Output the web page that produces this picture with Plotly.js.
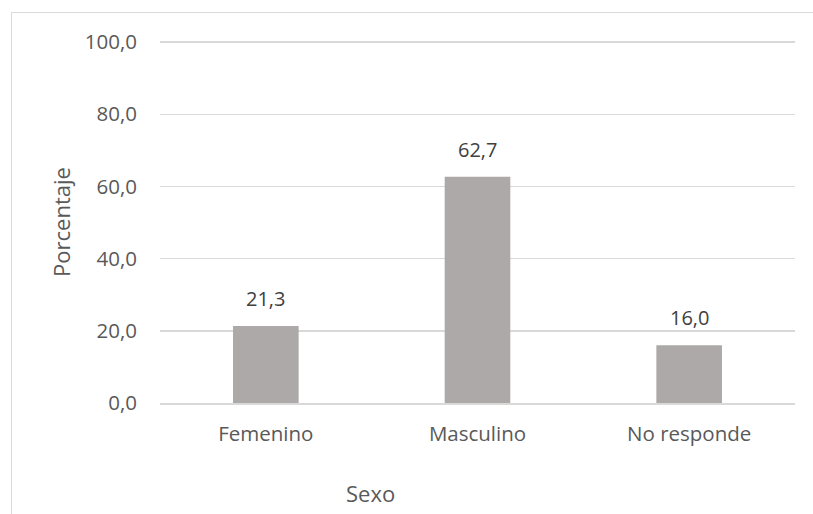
<!DOCTYPE html>
<html>
<head>
<meta charset="utf-8">
<script src="https://cdn.plot.ly/plotly-3.0.1.min.js"></script>
<style>
html,body{margin:0;padding:0;background:#fff;overflow:hidden;}
#wrap{position:relative;width:813px;height:514px;}
#chart{position:absolute;left:0;top:0;width:813px;height:514px;}
#frame{position:absolute;left:11px;top:12px;width:900px;height:600px;border-left:1px solid #d9d9d9;border-top:1px solid #d9d9d9;pointer-events:none;}
</style>
</head>
<body>
<div id="wrap"><div id="chart"></div><div id="frame"></div></div>
<script>
const categories = ["Femenino", "Masculino", "No responde"];
const values = [21.3, 62.7, 16.0];
const yTicks = [0, 20, 40, 60, 80, 100];

const FONT = "Open Sans";
const TXT = "#595959";

const fmt = v => v.toFixed(1).replace(".", ",");

const trace = {
  type: "bar",
  x: categories,
  y: values,
  marker: {color: "#ADA9A8"},
  hoverinfo: "skip"
};

const annotations = categories.map((c, i) => ({
  x: c, y: values[i], xref: "x", yref: "y",
  text: fmt(values[i]), showarrow: false,
  yanchor: "bottom", yshift: 12,
  font: {family: FONT, size: 20, color: "#404040"}
}));
annotations.push({
  xref: "paper", yref: "paper", x: 0.331, y: -0.249,
  text: "Sexo", showarrow: false, xanchor: "center", yanchor: "middle",
  font: {family: FONT, size: 22, color: TXT}
});

const layout = {
  width: 813, height: 514,
  margin: {l: 160, r: 18, t: 41, b: 111, pad: 0},
  paper_bgcolor: "rgba(0,0,0,0)",
  plot_bgcolor: "#fff",
  separators: ",.",
  showlegend: false,
  bargap: 0.69,
  xaxis: {
    type: "category",
    showgrid: false, showline: true, linecolor: "#d9d9d9", linewidth: 1.5,
    ticks: "", tickfont: {family: FONT, size: 20.5, color: TXT},
    ticklabelstandoff: 12, zeroline: false
  },
  yaxis: {
    range: [0, 100.3], tickvals: yTicks, ticktext: yTicks.map(fmt),
    showgrid: true, gridcolor: "#d9d9d9", gridwidth: 1.5,
    zeroline: false, showline: false, ticks: "",
    tickfont: {family: FONT, size: 20.5, color: TXT},
    ticklabelstandoff: 22,
    title: {text: "Porcentaje", font: {family: FONT, size: 22, color: TXT}, standoff: 8}
  },
  annotations: annotations,
  font: {family: FONT, color: TXT}
};

Plotly.newPlot("chart", [trace], layout, {displayModeBar: false, staticPlot: true});
</script>
</body>
</html>
